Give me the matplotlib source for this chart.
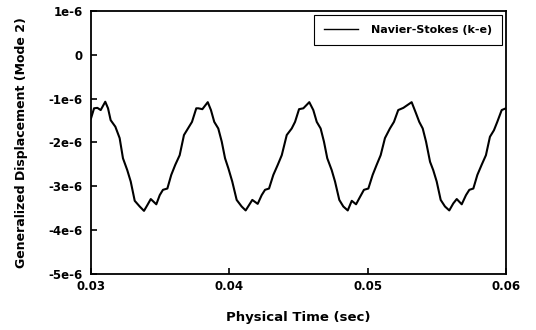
import matplotlib
matplotlib.use("Agg")
import matplotlib.pyplot as plt
from matplotlib.ticker import FixedLocator, FuncFormatter

plt.rcParams['font.family'] = ['DejaVu Sans']
plt.rcParams['font.weight'] = 'bold'

# time (sec) and generalized displacement (units of 1e-6)
time = [0.03000, 0.03022, 0.03046, 0.03070, 0.03103, 0.03123, 0.03142, 0.03176,
        0.03207, 0.03231, 0.03262, 0.03287, 0.03316, 0.03352, 0.03383, 0.03407,
        0.03432, 0.03472, 0.03497, 0.03520, 0.03552, 0.03580, 0.03609, 0.03641,
        0.03672, 0.03701, 0.03730, 0.03761,
        0.03776, 0.03805, 0.03844, 0.03867, 0.03891, 0.03920, 0.03945, 0.03969,
        0.03993, 0.04021, 0.04053, 0.04089, 0.04118, 0.04142, 0.04166, 0.04205,
        0.04234, 0.04258, 0.04287, 0.04318, 0.04350, 0.04379, 0.04415, 0.04451,
        0.04475, 0.04504, 0.04535,
        0.04578, 0.04607, 0.04632, 0.04660, 0.04684, 0.04708, 0.04740, 0.04764,
        0.04795, 0.04824, 0.04856, 0.04885, 0.04916, 0.04945, 0.04973, 0.05005,
        0.05036, 0.05065, 0.05094, 0.05125, 0.05161, 0.05190, 0.05221, 0.05258,
        0.05318, 0.05349, 0.05373, 0.05398, 0.05422, 0.05451, 0.05474, 0.05499,
        0.05528, 0.05559, 0.05590, 0.05619, 0.05644, 0.05680, 0.05711, 0.05735,
        0.05764, 0.05793, 0.05824, 0.05855, 0.05884, 0.05913, 0.05937, 0.05969,
        0.06000]
disp = [-1.45, -1.22, -1.21, -1.26, -1.07, -1.22, -1.49, -1.64,
        -1.90, -2.36, -2.63, -2.89, -3.33, -3.46, -3.56, -3.43,
        -3.29, -3.41, -3.20, -3.08, -3.05, -2.74, -2.51, -2.29,
        -1.83, -1.68, -1.53, -1.22,
        -1.22, -1.24, -1.08, -1.26, -1.53, -1.68, -1.98, -2.36,
        -2.59, -2.89, -3.31, -3.46, -3.55, -3.43, -3.31, -3.40,
        -3.20, -3.08, -3.05, -2.74, -2.51, -2.29, -1.83, -1.68,
        -1.53, -1.24, -1.22,
        -1.08, -1.26, -1.53, -1.68, -1.98, -2.36, -2.63, -2.89,
        -3.31, -3.46, -3.55, -3.33, -3.41, -3.24, -3.08, -3.05,
        -2.74, -2.51, -2.29, -1.90, -1.68, -1.53, -1.26, -1.21,
        -1.08, -1.33, -1.53, -1.68, -1.98, -2.44, -2.63, -2.89,
        -3.31, -3.46, -3.55, -3.39, -3.29, -3.41, -3.20, -3.08,
        -3.05, -2.74, -2.51, -2.29, -1.87, -1.72, -1.53, -1.26,
        -1.22]
disp = [d * 1e-6 for d in disp]

x_ticks = [0.03, 0.04, 0.05, 0.06]
y_ticks = [-5e-6, -4e-6, -3e-6, -2e-6, -1e-6, 0, 1e-6]

fig = plt.figure(figsize=(5.36, 3.30), dpi=100)
ax = fig.add_axes([0.1698, 0.1697, 0.7742, 0.797])

ax.plot(time, disp, color='black', lw=1.5, solid_joinstyle='round',
        label='Navier-Stokes (k-e)')

ax.set_xlim(0.03, 0.06)
ax.set_ylim(-5e-6, 1e-6)
ax.xaxis.set_major_locator(FixedLocator(x_ticks))
ax.yaxis.set_major_locator(FixedLocator(y_ticks))
ax.xaxis.set_major_formatter(FuncFormatter(lambda v, p: '%g' % v))


def yfmt(v, p):
    n = int(round(v * 1e6))
    return '0' if n == 0 else '%de-6' % n


ax.yaxis.set_major_formatter(FuncFormatter(yfmt))
ax.tick_params(direction='in', length=4, width=1.2, labelsize=8.5, colors='black')
ax.tick_params(axis='x', pad=4)
ax.tick_params(axis='y', pad=6)
for s in ax.spines.values():
    s.set_linewidth(1.3)

# axis labels
ax.set_xlabel('Physical Time (sec)', fontsize=9.5, fontweight='bold', labelpad=13)
ax.set_ylabel('Generalized Displacement (Mode 2)', fontsize=9, fontweight='bold', labelpad=15)

# legend box in the upper right corner
leg = ax.legend(loc='upper right', fontsize=8, fancybox=False, framealpha=1,
                edgecolor='black', borderaxespad=0.35, handlelength=3.0,
                borderpad=0.9, handletextpad=1.2)
leg.get_frame().set_linewidth(0.8)
for t in leg.get_lines():
    t.set_linewidth(1.0)

plt.savefig('out.png', dpi=100)
